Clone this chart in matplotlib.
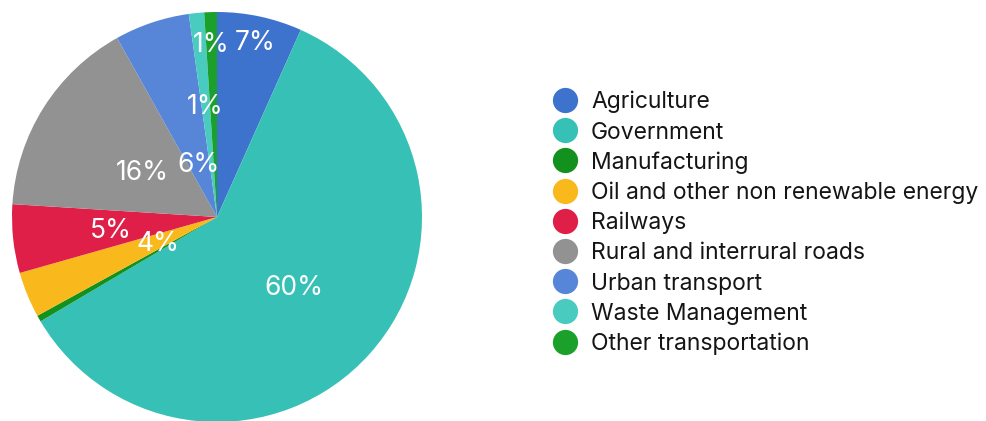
import numpy as np
import matplotlib
matplotlib.use("Agg")
import matplotlib.pyplot as plt

plt.rcParams['font.family'] = ['Inter', 'DejaVu Sans']

# share of spending by sector (%)
sectors = ["Agriculture", "Government", "Manufacturing",
           "Oil and other non renewable energy", "Railways",
           "Rural and interrural roads", "Urban transport",
           "Waste Management", "Other transportation"]
shares = [6.7, 59.8, 0.5, 3.6, 5.4, 15.9, 5.9, 1.2, 1.0]
colours = ["#3e73cd", "#37c1b6", "#13911f", "#f9b91c", "#e01f48",
           "#929292", "#5786d8", "#49cbbf", "#1ba12b"]

# how far out (fraction of radius) each percentage sits
label_r = [0.88, 0.50, None, 0.31, 0.52, 0.43, 0.28, 0.55, 0.85]

W, H = 987, 421
CAP = 0.727  # Inter cap height / em

fig = plt.figure(figsize=(W / 100, H / 100), dpi=100)
ax = fig.add_axes([0, 0, 1, 1])

cx, cy, R = 217, H - 217, 205
wedges, _ = ax.pie(shares, colors=colours, startangle=90, counterclock=False,
                   center=(cx, cy), radius=R, frame=True,
                   wedgeprops=dict(linewidth=0))
ax.set_xlim(0, W)
ax.set_ylim(0, H)
ax.axis("off")

# percentages, vertically centred on the digits (baseline + half cap height)
pct_size = 19
pct_half = CAP * pct_size * 100 / 72 / 2
for w, val, fr in zip(wedges, shares, label_r):
    if fr is None:
        continue
    mid = np.deg2rad((w.theta1 + w.theta2) / 2)
    x = cx + fr * R * np.cos(mid)
    y = cy + fr * R * np.sin(mid)
    ax.text(x, y - pct_half, f"{round(val):d}%", color="white",
            fontsize=pct_size, ha="center", va="baseline")

# legend: coloured dots with sector names
leg_size = 16.5
leg_half = CAP * leg_size * 100 / 72 / 2
row0, step = 100, 30.2
for i, (name, col) in enumerate(zip(sectors, colours)):
    y = H - (row0 + i * step)
    ax.scatter([565], [y], s=330, color=col, linewidths=0, zorder=3)
    ax.text(591, y - leg_half, name, fontsize=leg_size, color="#151515",
            ha="left", va="baseline")

fig.savefig("out.png", dpi=100)
